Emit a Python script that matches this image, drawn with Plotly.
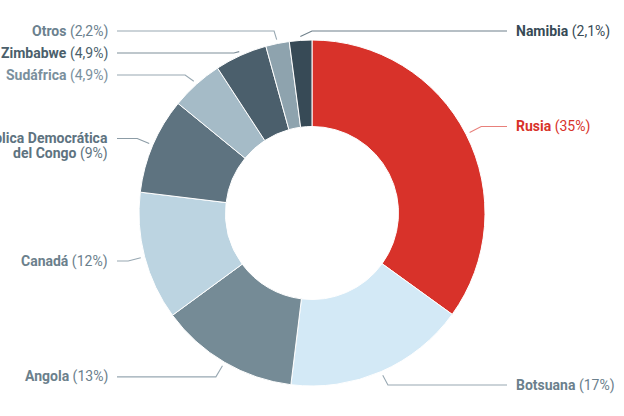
import math
import plotly.graph_objects as go

# ---- data ----
countries = ["Rusia", "Botsuana", "Angola", "Canadá", "República Democrática<br>del Congo",
             "Sudáfrica", "Zimbabwe", "Otros", "Namibia"]
shares = [35, 17, 13, 12, 9, 4.9, 4.9, 2.2, 2.1]

# ---- styles ----
slice_colors = ["#d8322a", "#d3e9f6", "#758b96", "#bcd4e1", "#5e7380",
                "#a5bbc7", "#4b5f6c", "#8ea3ae", "#374a56"]
text_colors = ["#d8322a", "#6b808c", "#6b808c", "#6b808c", "#5e7380",
               "#7a909d", "#4b5f6c", "#6b818e", "#374a56"]
line_colors = ["#e8807b", "#98a8b2", "#98a8b2", "#98a8b2", "#8c9ca6",
               "#98a8b2", "#7f8f99", "#98a8b2", "#6f808b"]

W, H = 624, 416
CX, CY, R = 312, 213, 173
HOLE = 0.5
R_START, R_ELBOW = 177, 190
X_LEFT_END, X_RIGHT_END = 117, 507
X_LEFT_TEXT, X_RIGHT_TEXT = 110, 514
Y_MIN, Y_MAX = 31, 385
SPACING, LINE_H = 22, 15
FONT = "Roboto"
FONT_SIZE = 14

fig = go.Figure()
fig.add_trace(go.Pie(
    labels=countries, values=shares, sort=False, direction="clockwise", rotation=0,
    hole=HOLE, textinfo="none", hoverinfo="label+percent",
    marker=dict(colors=slice_colors, line=dict(color="#ffffff", width=1)),
    domain=dict(x=[(CX - R) / W, (CX + R) / W], y=[(H - CY - R) / H, (H - CY + R) / H]),
    showlegend=False,
))

total = sum(shares)
cum = 0
items = []
for i, v in enumerate(shares):
    th = 2 * math.pi * (cum + v / 2) / total
    cum += v
    s, c = math.sin(th), math.cos(th)
    side = "right" if s > -0.1 else "left"
    items.append(dict(i=i, th=th, side=side,
                      sx=CX + R_START * s, sy=CY - R_START * c,
                      ex=CX + R_ELBOW * s, y=CY - R_ELBOW * c,
                      nlines=countries[i].count("<br>") + 1))

for side in ("left", "right"):
    grp = sorted([it for it in items if it["side"] == side], key=lambda d: d["y"])
    prev = None
    for it in grp:
        it["y"] = min(max(it["y"], Y_MIN), Y_MAX)
        if prev is not None:
            need = prev["y"] + SPACING + (prev["nlines"] - 1) * LINE_H
            if it["y"] < need:
                it["y"] = need
        prev = it

for it in items:
    i = it["i"]
    if it["side"] == "right":
        ex = max(it["ex"], CX)
        xend, xtext, anchor = X_RIGHT_END, X_RIGHT_TEXT, "left"
    else:
        ex = min(it["ex"], CX)
        xend, xtext, anchor = X_LEFT_END, X_LEFT_TEXT, "right"
    fig.add_trace(go.Scatter(
        x=[it["sx"], ex, xend], y=[it["sy"], it["y"], it["y"]],
        mode="lines", line=dict(color=line_colors[i], width=1.1),
        hoverinfo="skip", showlegend=False))
    name_lines = countries[i].split("<br>")
    pct = f"{shares[i]:g}".replace(".", ",")
    for k, ln in enumerate(name_lines):
        txt = f"<b>{ln}</b>"
        if k == len(name_lines) - 1:
            txt += f" ({pct}%)"
        fig.add_annotation(
            x=xtext, y=it["y"] + k * LINE_H, xref="x", yref="y",
            text=txt, showarrow=False, xanchor=anchor, yanchor="middle",
            font=dict(family=FONT, size=FONT_SIZE, color=text_colors[i]))

fig.update_layout(
    width=W, height=H, margin=dict(l=0, r=0, t=0, b=0),
    paper_bgcolor="#ffffff", plot_bgcolor="rgba(0,0,0,0)",
    xaxis=dict(range=[0, W], visible=False, fixedrange=True, domain=[0, 1]),
    yaxis=dict(range=[H, 0], visible=False, fixedrange=True, domain=[0, 1]),
    font=dict(family=FONT),
)

fig.write_html(
    "out.html",
    config={"displayModeBar": False},
    post_script="document.body.style.margin='0';document.body.style.overflow='hidden';",
)
